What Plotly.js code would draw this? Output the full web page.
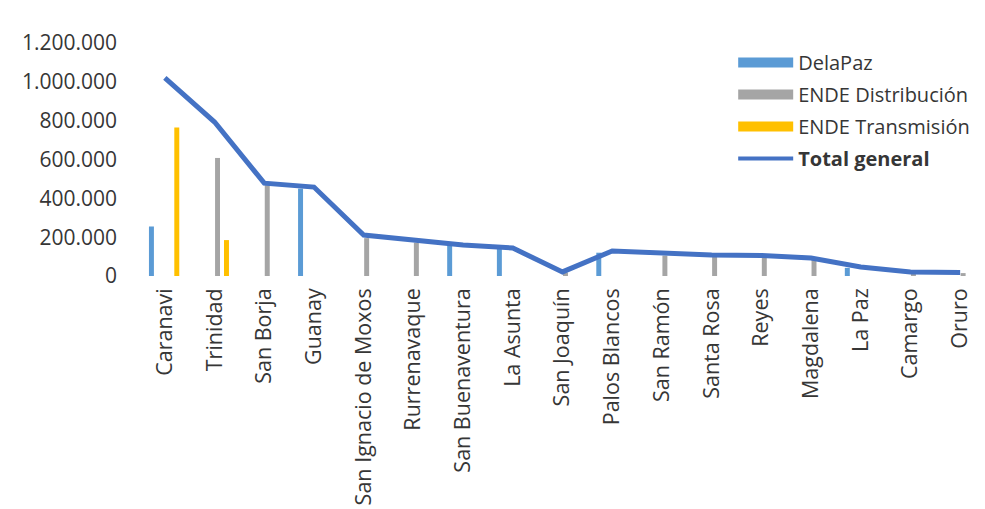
<!DOCTYPE html>
<html>
<head>
<meta charset="utf-8">
<script src="https://cdn.plot.ly/plotly-3.0.1.min.js"></script>
<style>html,body{margin:0;padding:0;background:#fff;}</style>
</head>
<body>
<div id="chart" style="width:985px;height:509px;"></div>
<script>
const categories = ["Caranavi","Trinidad","San Borja","Guanay","San Ignacio de Moxos","Rurrenavaque","San Buenaventura","La Asunta","San Joaquín","Palos Blancos","San Ramón","Santa Rosa","Reyes","Magdalena","La Paz","Camargo","Oruro"];
const delaPaz        = [255000, 0, 0, 450000, 0, 0, 155000, 145000, 0, 120000, 0, 0, 0, 0, 42000, 0, 0];
const endeDistrib    = [0, 608000, 468000, 0, 195000, 172000, 0, 0, 18000, 0, 105000, 100000, 100000, 88000, 0, 18000, 15000];
const endeTransmis   = [765000, 185000, 0, 0, 0, 0, 0, 0, 0, 0, 0, 0, 0, 0, 0, 0, 0];
const totalGeneral   = [1020000, 793000, 478000, 458000, 211000, 185000, 160000, 144000, 21000, 129000, 116000, 108000, 106000, 93000, 46000, 21000, 18000];
const yTicks = [0, 200000, 400000, 600000, 800000, 1000000, 1200000];

const FONT = "'Open Sans', sans-serif";
const TXT = "#363636";
const cBlue = "#5B9BD5", cGrey = "#A5A5A5", cYellow = "#FFC000", cLine = "#4472C4";
const W = 0.1;

function barTrace(name, vals, color, shift) {
  return {type: "bar", name: name, x: categories, y: vals, marker: {color: color},
          width: W, offset: shift - W / 2, showlegend: false, hoverinfo: "x+y+name"};
}
function legendTrace(name, color, width, grp) {
  return {type: "scatter", mode: "lines", name: name, x: [null], y: [null],
          line: {color: color, width: width}, legendgroup: grp, hoverinfo: "skip"};
}

const data = [
  barTrace("DelaPaz", delaPaz, cBlue, -0.27),
  barTrace("ENDE Distribución", endeDistrib, cGrey, 0.06),
  barTrace("ENDE Transmisión", endeTransmis, cYellow, 0.24),
  {type: "scatter", mode: "lines", name: "<b>Total general</b>", x: categories, y: totalGeneral,
   line: {color: cLine, width: 5}, showlegend: false},
  legendTrace("DelaPaz", cBlue, 10, "a"),
  legendTrace("ENDE Distribución", cGrey, 10, "b"),
  legendTrace("ENDE Transmisión", cYellow, 10, "c"),
  legendTrace("<b>Total general</b>", cLine, 4, "d")
];

const layout = {
  width: 985, height: 509,
  margin: {l: 140, r: 0, t: 43, b: 233, pad: 0},
  paper_bgcolor: "#ffffff", plot_bgcolor: "#ffffff",
  separators: ",.",
  barmode: "overlay",
  font: {family: FONT, size: 20, color: TXT},
  xaxis: {type: "category", tickangle: -90, showgrid: false, zeroline: false, showline: false,
          ticks: "", ticklabelstandoff: 7, tickfont: {family: FONT, size: 21.5, color: TXT},
          range: [-0.5, 16.5]},
  yaxis: {range: [0, 1200000], tickvals: yTicks, tickformat: ",d", showgrid: false,
          zeroline: false, showline: false, ticks: "", ticklabelstandoff: 22,
          tickfont: {family: FONT, size: 21, color: TXT}},
  legend: {x: 0.702, y: 1.0, xanchor: "left", yanchor: "top", bgcolor: "rgba(0,0,0,0)",
           font: {family: FONT, size: 20, color: TXT}, itemwidth: 55, tracegroupgap: 3,
           traceorder: "grouped"},
  showlegend: true
};

Plotly.newPlot("chart", data, layout, {displayModeBar: false, staticPlot: true});
</script>
</body>
</html>
